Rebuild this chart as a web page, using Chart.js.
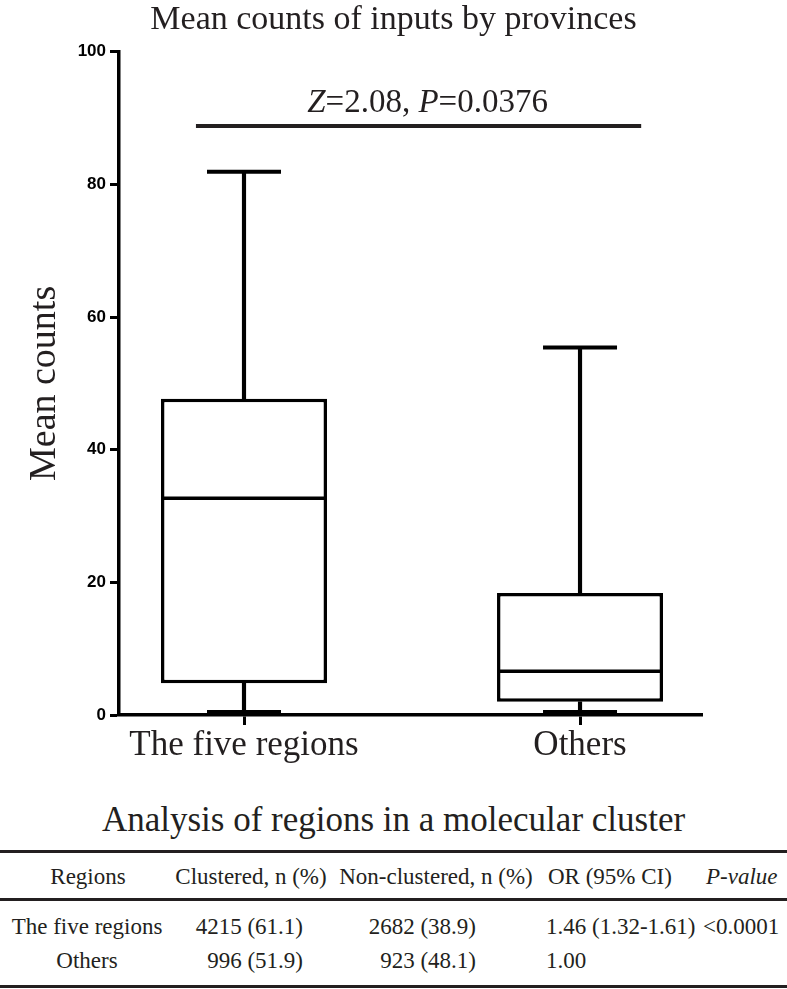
<!DOCTYPE html>
<html>
<head>
<meta charset="utf-8">
<script src="https://cdn.jsdelivr.net/npm/chart.js@4/dist/chart.umd.min.js"></script>
<style>
  body { margin: 0; background: #fff; }
  #wrap { position: relative; width: 787px; height: 989px; font-family: 'Liberation Serif', 'Times New Roman', serif; color: #231f20; }
  #myChart { position: absolute; left: 0; top: 0; }
  #tableTitle { position: absolute; left: 0; top: 800px; width: 787px; text-align: center; font-size: 35px; line-height: 40px; }
  .rule { position: absolute; left: 0; width: 787px; height: 3px; background: #231f20; }
  .cell { position: absolute; font-size: 23px; line-height: 26px; white-space: nowrap; }
</style>
</head>
<body>
<div id="wrap">
  <canvas id="myChart" width="787" height="775"></canvas>
  <div id="tableTitle">Analysis of regions in a molecular cluster</div>
  <div id="table"></div>
</div>
<script>
// box plot values
const categories = ["The five regions", "Others"];
const whiskerMax = [81.9, 55.4];
const upperQuartile = [47.7, 18.4];
const medians = [32.7, 6.6];
const lowerQuartile = [4.8, 2.0];
const whiskerMin = [0.45, 0.45];
const yTicks = [0, 20, 40, 60, 80, 100];

// significance bracket
const sigParts = ["Z", "=2.08, ", "P", "=0.0376"];
const sigItalic = [true, false, true, false];
const sigLevel = 88.8;
const sigFrom = 0.857;
const sigTo = 2.182;

// table
const tableHeader = ["Regions", "Clustered, n (%)", "Non-clustered, n (%)", "OR (95% CI)", "P-value"];
const tableRegions = ["The five regions", "Others"];
const clustered = ["4215 (61.1)", "996 (51.9)"];
const nonClustered = ["2682 (38.9)", "923 (48.1)"];
const oddsRatio = ["1.46 (1.32-1.61)", "1.00"];
const pValues = ["<0.0001", ""];

const ink = "#231f20";
const serif = "'Liberation Serif', 'Times New Roman', serif";
const xOf = (i) => i + 1;

let sigText = {
  id: "sigText",
  afterDatasetsDraw(chart) {
    const {ctx, scales: {x, y}} = chart;
    ctx.save();
    ctx.fillStyle = ink;
    ctx.textBaseline = "alphabetic";
    const fontFor = (i) => (sigItalic[i] ? "italic " : "") + "33px " + serif;
    let total = 0;
    sigParts.forEach((p, i) => { ctx.font = fontFor(i); total += ctx.measureText(p).width; });
    let px = x.getPixelForValue((sigFrom + sigTo) / 2) - total / 2 + 9;
    const py = y.getPixelForValue(sigLevel) - 14;
    sigParts.forEach((p, i) => {
      ctx.font = fontFor(i);
      ctx.fillText(p, px, py);
      px += ctx.measureText(p).width;
    });
    ctx.restore();
  },
};

let ctx = document.getElementById("myChart").getContext("2d");
let myChart = new Chart(ctx, {
  type: "bar",
  data: {
    datasets: [
      {
        type: "line",
        data: [{x: sigFrom, y: sigLevel}, {x: sigTo, y: sigLevel}],
        borderColor: ink,
        borderWidth: 4,
        pointRadius: 0,
      },
      {
        type: "line",
        data: categories.map((c, i) => ({x: xOf(i), y: medians[i]})),
        showLine: false,
        pointStyle: "line",
        pointRadius: 81,
        pointBorderWidth: 3.5,
        pointBorderColor: "#000",
      },
      {
        type: "line",
        data: categories.map((c, i) => ({x: xOf(i), y: whiskerMax[i]}))
          .concat(categories.map((c, i) => ({x: xOf(i), y: whiskerMin[i]}))),
        showLine: false,
        pointStyle: "line",
        pointRadius: 37,
        pointBorderWidth: 4,
        pointBorderColor: "#000",
      },
      {
        data: categories.map((c, i) => ({x: xOf(i), y: [lowerQuartile[i], upperQuartile[i]]})),
        backgroundColor: "#fff",
        borderColor: "#000",
        borderWidth: 3.5,
        borderSkipped: false,
        grouped: false,
        categoryPercentage: 1,
        barPercentage: 0.494,
      },
      {
        data: categories.map((c, i) => ({x: xOf(i), y: [upperQuartile[i], whiskerMax[i]]}))
          .concat(categories.map((c, i) => ({x: xOf(i), y: [whiskerMin[i], lowerQuartile[i]]}))),
        backgroundColor: "#000",
        borderWidth: 0,
        grouped: false,
        barThickness: 3.5,
      },
    ],
  },
  options: {
    responsive: false,
    animation: false,
    events: [],
    layout: {autoPadding: false, padding: 0},
    plugins: {
      legend: {display: false},
      tooltip: {enabled: false},
      title: {
        display: true,
        text: "Mean counts of inputs by provinces",
        color: ink,
        font: {family: serif, size: 34, weight: "normal"},
        padding: {top: 0, bottom: 11},
      },
    },
    scales: {
      x: {
        type: "linear",
        min: 0.628,
        max: 2.363,
        offset: false,
        afterBuildTicks: (axis) => { axis.ticks = categories.map((c, i) => ({value: xOf(i)})); },
        afterFit: (axis) => { axis.height = 60; },
        ticks: {
          callback: (v) => categories[v - 1],
          color: ink,
          font: {family: serif, size: 35},
          padding: 0,
          maxRotation: 0,
        },
        grid: {offset: false, drawOnChartArea: false, tickLength: 10, tickWidth: 3, tickColor: "#000"},
        border: {display: true, color: "#000", width: 3.5},
      },
      y: {
        min: 0,
        max: 100,
        afterBuildTicks: (axis) => { axis.ticks = yTicks.map((v) => ({value: v})); },
        afterFit: (axis) => { axis.width = 119; },
        ticks: {
          color: "#000",
          font: {family: "'Liberation Sans', Arial, sans-serif", size: 17, weight: "bold"},
          padding: 4,
        },
        grid: {drawOnChartArea: false, tickLength: 9, tickWidth: 3, tickColor: "#000"},
        border: {display: true, color: "#000", width: 3.5},
        title: {
          display: true,
          text: "Mean counts",
          color: ink,
          font: {family: serif, size: 38},
          padding: {top: 22, bottom: 0},
        },
      },
      // empty right-hand margin so the title centres on the whole figure
      yRight: {
        position: "right",
        min: 0,
        max: 100,
        ticks: {display: false},
        grid: {display: false},
        border: {display: false},
        afterFit: (axis) => { axis.width = 85; },
      },
    },
  },
  plugins: [sigText],
});

// table below the chart
const table = document.getElementById("table");
const rules = [850, 898, 985];
rules.forEach((top) => {
  const r = document.createElement("div");
  r.className = "rule";
  r.style.top = top + "px";
  table.appendChild(r);
});

function addCell(text, x, yMid, align, italic) {
  const d = document.createElement("div");
  d.className = "cell";
  d.textContent = text;
  d.style.top = (yMid - 13) + "px";
  if (align === "left") d.style.left = x + "px";
  if (align === "right") d.style.right = (787 - x) + "px";
  if (align === "center") { d.style.left = x + "px"; d.style.transform = "translateX(-50%)"; }
  if (italic) d.style.fontStyle = "italic";
  table.appendChild(d);
}

const headerPos = [[88, "center"], [251, "center"], [436, "center"], [548, "left"], [706, "left"]];
tableHeader.forEach((h, i) => addCell(h, headerPos[i][0], 877, headerPos[i][1], i === 4));

const rowMid = [927, 961];
tableRegions.forEach((region, r) => {
  addCell(region, 87, rowMid[r], "center");
  addCell(clustered[r], 303, rowMid[r], "right");
  addCell(nonClustered[r], 476, rowMid[r], "right");
  addCell(oddsRatio[r], 546, rowMid[r], "left");
  if (pValues[r]) addCell(pValues[r], 703, rowMid[r], "left");
});
</script>
</body>
</html>
